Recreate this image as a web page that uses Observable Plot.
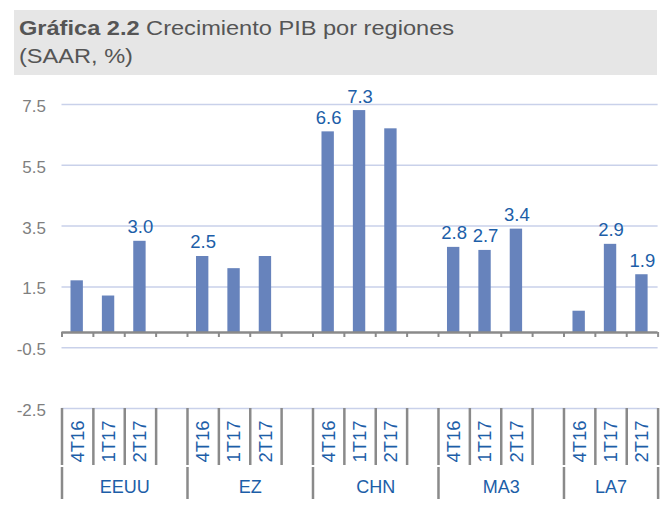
<!DOCTYPE html>
<html>
<head>
<meta charset="utf-8">
<script src="https://cdn.jsdelivr.net/npm/d3@7"></script>
<script src="https://cdn.jsdelivr.net/npm/@observablehq/plot@0.6"></script>
<style>
  html, body { margin: 0; padding: 0; background: #fff; }
  body { width: 662px; height: 506px; position: relative; overflow: hidden; font-family: "Liberation Sans", Arial, sans-serif; }
  #titlebox { position: absolute; left: 14px; top: 10px; width: 643px; height: 65px; background: #e6e6e6; }
  #title { position: absolute; left: 19px; top: 14px; color: #555; font-size: 20.5px; line-height: 28px; white-space: nowrap; transform: scaleX(1.15); transform-origin: 0 0; }
  #chart { position: absolute; left: 0; top: 80px; }
</style>
</head>
<body>
<div id="titlebox"></div>
<div id="title"><b>Gráfica 2.2</b> Crecimiento PIB por regiones<br>(SAAR, %)</div>
<div id="chart"></div>
<script>
const regions = ["EEUU", "EZ", "CHN", "MA3", "LA7"];
const quarters = ["4T16", "1T17", "2T17"];
const eeuu = [1.7, 1.2, 3.0];
const ez = [2.5, 2.1, 2.5];
const chn = [6.6, 7.3, 6.7];
const ma3 = [2.8, 2.7, 3.4];
const la7 = [0.7, 2.9, 1.9];
const eeuuLabeled = [false, false, true];
const ezLabeled = [true, false, false];
const chnLabeled = [true, true, false];
const ma3Labeled = [true, true, true];
const la7Labeled = [false, true, true];
const yTicks = [-2.5, -0.5, 1.5, 3.5, 5.5, 7.5];

const series = [eeuu, ez, chn, ma3, la7];
const labeled = [eeuuLabeled, ezLabeled, chnLabeled, ma3Labeled, la7Labeled];
const slotsPerGroup = quarters.length + 1;
const nSlots = regions.length * slotsPerGroup - 1;

const data = [];
regions.forEach((r, gi) => quarters.forEach((q, qi) => data.push({
  region: r, quarter: q, value: series[gi][qi], labeled: labeled[gi][qi], slot: gi * slotsPerGroup + qi
})));
const boundaries = d3.range(0, nSlots + 1);
const groupBounds = regions.map((r, gi) => gi * slotsPerGroup).concat([nSlots]);
const groups = regions.map((r, gi) => ({region: r, start: gi * slotsPerGroup, end: Math.min((gi + 1) * slotsPerGroup, nSlots)}));

const blue = "#6783bc";
const labelBlue = "#1c5ea8";
const grey = "#8a8a8a";

const chart = Plot.plot({
  width: 662,
  height: 426,
  marginLeft: 61.5,
  marginRight: 4.4,
  marginTop: 24,
  marginBottom: 98,
  style: {fontFamily: "'Liberation Sans', Arial, sans-serif", background: "transparent"},
  x: {type: "linear", domain: [0, nSlots], axis: null},
  y: {domain: [-2.5, 7.5], axis: null},
  marks: [
    Plot.ruleY(yTicks, {stroke: "#c9d1ea", strokeWidth: 1.5}),
    Plot.axisY(yTicks, {tickSize: 0, tickPadding: 16, tickFormat: d => d.toFixed(1), fill: "#7f7f7f", fontSize: 17, dy: 2, label: null}),
    Plot.rectY(data, {x1: "slot", x2: d => d.slot + 1, y1: 0, y2: "value", fill: blue, insetLeft: 9, insetRight: 10}),
    Plot.ruleY([0], {stroke: grey, strokeWidth: 2.5}),
    Plot.ruleX(boundaries, {x: d => d, y1: 0, y2: 0, stroke: grey, strokeWidth: 2, insetBottom: -5}),
    Plot.text(data.filter(d => d.labeled), {x: d => d.slot + 0.5, y: "value", text: d => d.value.toFixed(1), dy: -14, fill: labelBlue, fontSize: 18.5}),
    // category table
    Plot.ruleX(boundaries, {x: d => d, y1: -2.5, y2: -2.5, stroke: grey, strokeWidth: 2.5, insetBottom: -57}),
    Plot.ruleX(groupBounds, {x: d => d, y1: -2.5, y2: -2.5, stroke: grey, strokeWidth: 2.5, insetTop: 59, insetBottom: -91}),
    Plot.text(data, {x: d => d.slot + 0.5, y: -2.5, text: "quarter", rotate: -90, dy: 33, fill: labelBlue, fontSize: 18.5}),
    Plot.text(groups, {x: d => (d.start + d.end) / 2, y: -2.5, text: "region", dy: 79, fill: labelBlue, fontSize: 18})
  ]
});
document.getElementById("chart").appendChild(chart);
</script>
</body>
</html>
